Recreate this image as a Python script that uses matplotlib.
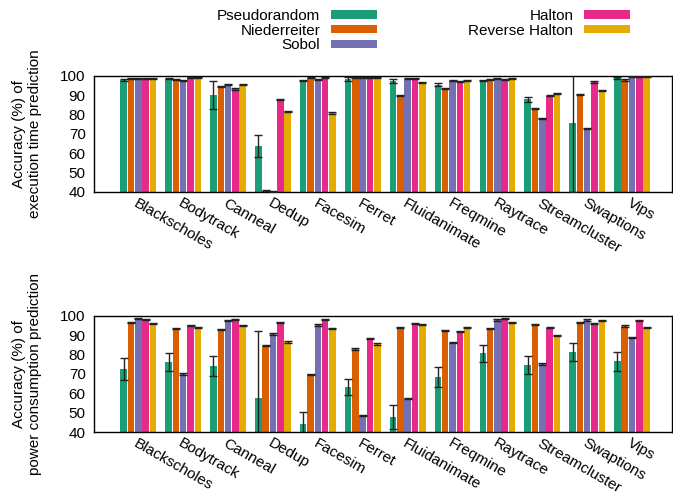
import numpy as np
import matplotlib.pyplot as plt
from matplotlib.patches import Patch

plt.rcParams['font.family'] = ['Liberation Sans', 'DejaVu Sans']
plt.rcParams['font.size'] = 11

benchmarks = ['Blackscholes', 'Bodytrack', 'Canneal', 'Dedup', 'Facesim', 'Ferret',
              'Fluidanimate', 'Freqmine', 'Raytrace', 'Streamcluster', 'Swaptions', 'Vips']
methods = ['Pseudorandom', 'Niederreiter', 'Sobol', 'Halton', 'Reverse Halton']
colors = ['#1b9e77', '#d95f02', '#7570b3', '#e7298a', '#e6ab02']

# execution time prediction accuracy (%)
time_pseudo = [97.9, 98.6, 90.2, 63.9, 97.6, 98.3, 97.4, 95.4, 97.6, 87.8, 75.8, 98.8]
time_nied   = [98.6, 98.1, 94.4, 40.7, 99.0, 99.3, 89.9, 93.5, 98.3, 83.3, 90.2, 97.9]
time_sobol  = [98.6, 97.6, 95.4, 40.3, 98.3, 99.3, 98.6, 97.6, 98.6, 77.8, 72.8, 99.5]
time_halton = [98.6, 99.2, 93.2, 87.6, 99.0, 99.3, 98.6, 97.1, 98.3, 89.7, 96.8, 99.5]
time_rev    = [98.5, 99.2, 95.4, 81.6, 80.8, 99.3, 96.7, 97.4, 98.5, 90.9, 92.3, 99.5]
time_pseudo_err = [0.4, 0.3, 7.4, 5.6, 0.5, 1.0, 1.0, 0.8, 0.4, 1.5, 36.0, 0.4]

# power consumption prediction accuracy (%)
power_pseudo = [72.6, 76.2, 74.1, 57.4, 44.1, 63.3, 47.8, 68.4, 80.7, 74.5, 81.4, 76.5]
power_nied   = [96.5, 93.4, 92.8, 84.7, 69.8, 82.9, 94.0, 92.6, 93.4, 95.5, 96.4, 94.8]
power_sobol  = [98.6, 70.0, 97.6, 90.7, 95.3, 48.6, 57.2, 86.2, 97.9, 75.2, 97.9, 88.8]
power_halton = [98.3, 95.2, 98.1, 96.5, 98.1, 88.4, 96.2, 91.9, 98.6, 94.0, 96.0, 97.8]
power_rev    = [95.9, 94.1, 95.2, 86.5, 93.6, 85.5, 95.7, 94.0, 96.5, 89.7, 97.6, 94.0]
power_pseudo_err = [5.7, 4.6, 5.0, 35.0, 6.4, 4.2, 6.4, 5.0, 4.5, 4.6, 4.6, 5.1]

small_err = 0.3

fig = plt.figure(figsize=(6.73, 4.96), dpi=100)
ax_t = fig.add_axes([0.1397, 0.613, 0.8588, 0.234])
ax_b = fig.add_axes([0.1397, 0.129, 0.8588, 0.234])

x = np.arange(len(benchmarks))
pitch, width = 0.163, 0.145


def draw_panel(ax, series, pseudo_err, ylabel):
    for i, (vals, col) in enumerate(zip(series, colors)):
        pos = x + (i - 2) * pitch
        err = pseudo_err if i == 0 else [small_err] * len(vals)
        ax.bar(pos, vals, width, color=col, zorder=2)
        ax.errorbar(pos, vals, yerr=err, fmt='none', ecolor='#222222',
                    elinewidth=1.0, capsize=3.2, capthick=1.0, zorder=3)
    ax.set_xlim(-0.987, 11.89)
    ax.set_ylim(40, 100)
    ax.set_yticks(range(40, 101, 10))
    ax.tick_params(axis='y', length=0, pad=6)
    ax.tick_params(axis='x', length=0, pad=3)
    ax.set_xticks(x)
    ax.set_xticklabels(benchmarks, rotation=-30, ha='left', va='top',
                       rotation_mode='anchor')
    ax.set_ylabel(ylabel, labelpad=13)
    for s in ax.spines.values():
        s.set_linewidth(1.0)


draw_panel(ax_t, [time_pseudo, time_nied, time_sobol, time_halton, time_rev],
           time_pseudo_err, 'Accuracy (%) of\nexecution time prediction')
draw_panel(ax_b, [power_pseudo, power_nied, power_sobol, power_halton, power_rev],
           power_pseudo_err, 'Accuracy (%) of\npower consumption prediction')

handles = [Patch(facecolor=c, edgecolor='none') for c in colors]
fig.legend(handles, methods, loc='upper left', bbox_to_anchor=(0.302, 1.01),
           ncol=2, markerfirst=False, frameon=False, handlelength=3.0,
           handleheight=0.5, labelspacing=0.05, columnspacing=6.0,
           handletextpad=0.7, fontsize=11)

fig.savefig('out.png', dpi=100)
